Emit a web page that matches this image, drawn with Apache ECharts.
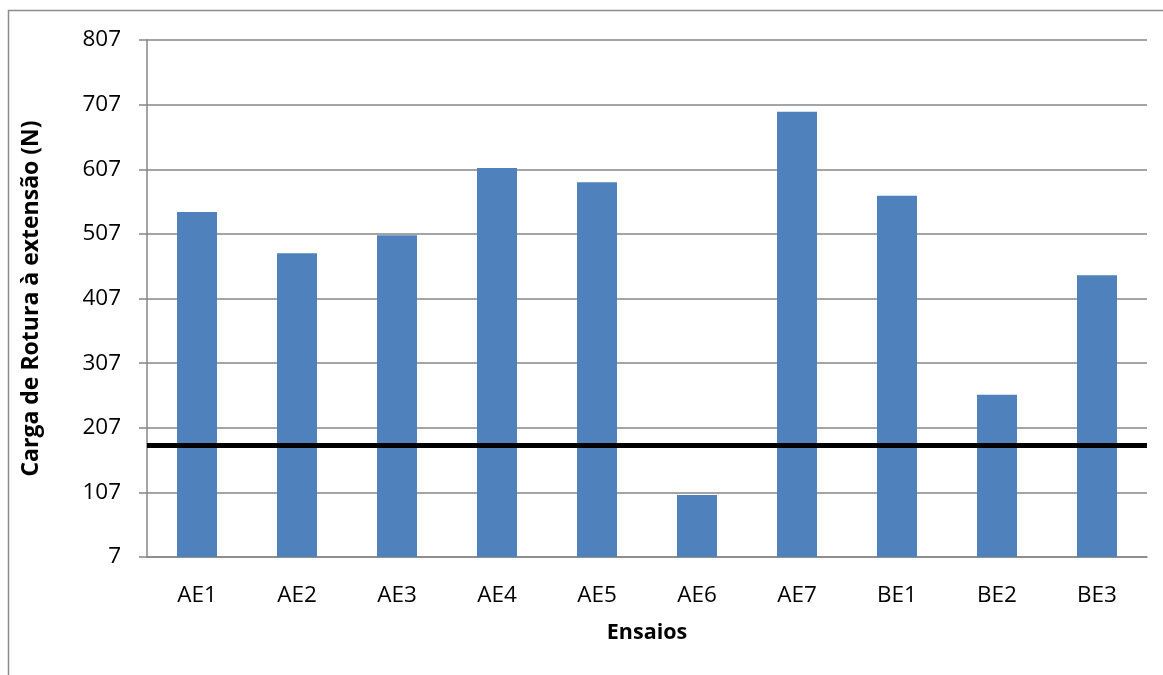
<!DOCTYPE html>
<html>
<head>
<meta charset="utf-8">
<script src="https://cdn.jsdelivr.net/npm/echarts@6/dist/echarts.min.js"></script>
<style>
  html, body { margin: 0; padding: 0; background: #fff; }
  #chart { width: 1163px; height: 675px; }
</style>
</head>
<body>
<div id="chart"></div>
<script>
// Ensaios de tracção: carga de rotura por provete
const categories = ['AE1', 'AE2', 'AE3', 'AE4', 'AE5', 'AE6', 'AE7', 'BE1', 'BE2', 'BE3'];
const cargaRotura = [541, 477, 505, 609, 587, 103, 696, 566, 258, 443];
// Valor de referência (linha horizontal)
const cargaReferencia = 180;
const yMin = 7;
const yMax = 807;
const yStep = 100;

const FONT = '"Open Sans", "Noto Sans", sans-serif';

const chart = echarts.init(document.getElementById('chart'), null, { renderer: 'canvas' });

chart.setOption({
  animation: false,
  backgroundColor: '#ffffff',
  graphic: [{
    type: 'rect',
    shape: { x: 8.5, y: 10.5, width: 1200, height: 700 },
    style: { fill: 'none', stroke: '#8c8c8c', lineWidth: 1.5 },
    silent: true
  }],
  grid: { left: 147, right: 16, top: 40, bottom: 118, containLabel: false },
  xAxis: {
    type: 'category',
    data: categories,
    name: 'Ensaios',
    nameLocation: 'middle',
    nameGap: 65,
    nameTextStyle: { fontFamily: FONT, fontSize: 21.5, fontWeight: 'bold', color: '#000' },
    axisLine: { lineStyle: { color: '#868686', width: 1.5 } },
    axisTick: { show: false },
    axisLabel: { fontFamily: FONT, fontSize: 22.5, color: '#000', margin: 27 }
  },
  yAxis: {
    type: 'value',
    min: yMin,
    max: yMax,
    interval: yStep,
    name: 'Carga de Rotura à extensão (N)',
    nameLocation: 'middle',
    nameGap: 104,
    nameRotate: 90,
    nameTextStyle: { fontFamily: FONT, fontSize: 23, fontWeight: 'bold', color: '#000' },
    axisLine: { show: true, lineStyle: { color: '#868686', width: 1.5 } },
    axisTick: { show: true, length: 8, lineStyle: { color: '#868686', width: 1.5 } },
    splitLine: { show: true, lineStyle: { color: '#868686', width: 1.5 } },
    axisLabel: { fontFamily: FONT, fontSize: 22.5, color: '#000', margin: 26 }
  },
  series: [{
    type: 'bar',
    data: cargaRotura,
    barWidth: 40,
    itemStyle: { color: '#4f81bd' },
    markLine: {
      silent: true,
      symbol: ['none', 'none'],
      label: { show: false },
      lineStyle: { color: '#000', width: 5, type: 'solid' },
      data: [{ yAxis: cargaReferencia }]
    }
  }]
});
</script>
</body>
</html>
